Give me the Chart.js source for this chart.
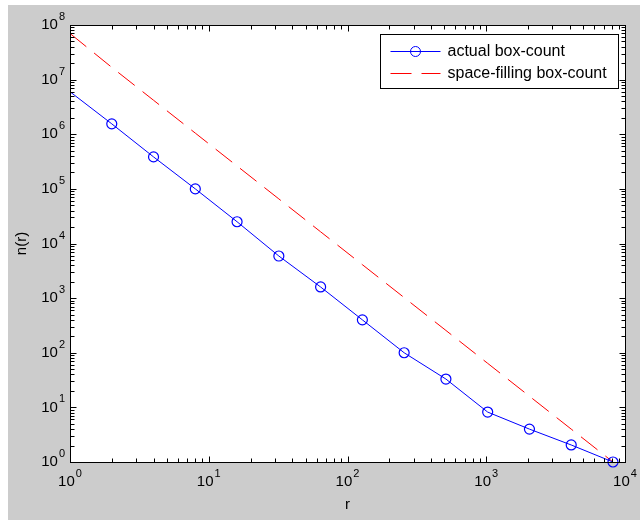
<!DOCTYPE html>
<html>
<head>
<meta charset="utf-8">
<script src="https://cdn.jsdelivr.net/npm/chart.js@4.4.1/dist/chart.umd.min.js"></script>
<style>
  html, body { margin: 0; padding: 0; background: #fff; }
  #wrap { width: 640px; height: 520px; }
</style>
</head>
<body>
<div id="wrap"><canvas id="c" width="640" height="520"></canvas></div>
<script>
// box sizes r and counts n(r)
const radii = [1, 2, 4, 8, 16, 32, 64, 128, 256, 512, 1024, 2048, 4096, 8192]
const actualCount = [6.0e6, 1.55e6, 3.85e5, 1.0e5, 2.5e4, 5.9e3, 1.6e3, 400, 100, 33, 8.2, 4.0, 2.05, 1]
const spaceFilling = [70000000, 16777216, 4194304, 1048576, 262144, 65536, 16384, 4096, 1024, 256, 64, 16, 4, 1]

const xMajor = [1, 10, 100, 1000, 10000]
const xExponents = ["0", "1", "2", "3", "4"]
const yMajor = [1, 10, 100, 1e3, 1e4, 1e5, 1e6, 1e7, 1e8]
const yExponents = ["0", "1", "2", "3", "4", "5", "6", "7", "8"]

const seriesNames = ["actual box-count", "space-filling box-count"]

const FONT = "Liberation Sans, Arial, sans-serif"

function minorValues(majors) {
  const out = []
  for (let i = 0; i < majors.length - 1; i++) {
    for (let m = 2; m <= 9; m++) out.push(majors[i] * m)
  }
  return out
}

function drawPower(ctx, exp, x, y, align) {
  // "10" with a raised exponent, y is the vertical middle of the "10"
  ctx.font = "15px " + FONT
  const wBase = ctx.measureText("10").width
  ctx.font = "11px " + FONT
  const wExp = ctx.measureText(exp).width
  const total = wBase + wExp + 1
  let left = align === "right" ? x - total : x - total / 2
  ctx.textBaseline = "middle"
  ctx.textAlign = "left"
  ctx.font = "15px " + FONT
  ctx.fillText("10", left, y)
  ctx.font = "11px " + FONT
  ctx.fillText(exp, left + wBase + 1, y - 8)
}

const matlabAxes = {
  id: "matlabAxes",
  beforeDraw(chart) {
    const { ctx, chartArea: a } = chart
    ctx.save()
    ctx.fillStyle = "#fff"
    ctx.fillRect(0, 0, chart.width, chart.height)
    ctx.fillStyle = "#cccccc"
    ctx.fillRect(8, 5, chart.width - 8, chart.height - 5)
    ctx.fillStyle = "#fff"
    ctx.fillRect(a.left, a.top, a.right - a.left, a.bottom - a.top)
    ctx.restore()
  },
  afterDraw(chart) {
    const { ctx, chartArea: a } = chart
    const xs = chart.scales.x, ys = chart.scales.y
    const L = Math.round(a.left) + 0.5, R = Math.round(a.right) + 0.5
    const T = Math.round(a.top) + 0.5, B = Math.round(a.bottom) + 0.5
    ctx.save()
    ctx.strokeStyle = "#000"
    ctx.lineWidth = 1
    ctx.strokeRect(L, T, R - L, B - T)

    ctx.beginPath()
    const tick = (v, len, horiz) => {
      if (horiz) {
        const px = Math.round(xs.getPixelForValue(v)) + 0.5
        ctx.moveTo(px, B); ctx.lineTo(px, B - len)
        ctx.moveTo(px, T); ctx.lineTo(px, T + len)
      } else {
        const py = Math.round(ys.getPixelForValue(v)) + 0.5
        ctx.moveTo(L, py); ctx.lineTo(L + len, py)
        ctx.moveTo(R, py); ctx.lineTo(R - len, py)
      }
    }
    xMajor.forEach(v => tick(v, 6, true))
    minorValues(xMajor).forEach(v => tick(v, 4, true))
    yMajor.forEach(v => tick(v, 6, false))
    minorValues(yMajor).forEach(v => tick(v, 4, false))
    ctx.stroke()

    ctx.fillStyle = "#000"
    xMajor.forEach((v, i) => drawPower(ctx, xExponents[i], xs.getPixelForValue(v), a.bottom + 20, "center"))
    yMajor.forEach((v, i) => drawPower(ctx, yExponents[i], a.left - 5, ys.getPixelForValue(v), "right"))

    // axis titles
    ctx.font = "15px " + FONT
    ctx.textAlign = "center"
    ctx.textBaseline = "middle"
    ctx.fillText("r", (a.left + a.right) / 2, a.bottom + 43)
    ctx.save()
    ctx.translate(22, (a.top + a.bottom) / 2)
    ctx.rotate(-Math.PI / 2)
    ctx.fillText("n(r)", 0, 0)
    ctx.restore()

    // legend box, top right inside the axes
    const lw = 238, lh = 54
    const lx = Math.round(a.right - 7 - lw) + 0.5, ly = Math.round(a.top + 9) + 0.5
    ctx.fillStyle = "#fff"
    ctx.fillRect(lx, ly, lw, lh)
    ctx.strokeStyle = "#000"
    ctx.strokeRect(lx, ly, lw, lh)
    chart.data.datasets.forEach((ds, i) => {
      const yy = ly + 17 + i * 22
      ctx.strokeStyle = ds.borderColor
      ctx.lineWidth = ds.borderWidth
      ctx.setLineDash(ds.borderDash || [])
      ctx.beginPath()
      ctx.moveTo(lx + 10, yy); ctx.lineTo(lx + 60, yy)
      ctx.stroke()
      ctx.setLineDash([])
      if (ds.pointStyle === "circle") {
        ctx.beginPath()
        ctx.arc(lx + 35, yy, 5, 0, Math.PI * 2)
        ctx.stroke()
      }
      ctx.fillStyle = "#000"
      ctx.font = "16px " + FONT
      ctx.textAlign = "left"
      ctx.textBaseline = "middle"
      ctx.fillText(ds.label, lx + 67, yy)
    })
    ctx.restore()
  }
}

new Chart(document.getElementById("c"), {
  type: "line",
  data: {
    datasets: [{
      label: seriesNames[0],
      data: radii.map((r, i) => ({ x: r, y: actualCount[i] })),
      borderColor: "#0000ff",
      borderWidth: 1,
      pointStyle: "circle",
      pointRadius: (ctx) => ctx.dataIndex === 0 ? 0 : 5,
      pointBorderColor: "#0000ff",
      pointBackgroundColor: "rgba(0,0,0,0)",
      pointBorderWidth: 1.2,
      tension: 0,
      clip: false,
    }, {
      label: seriesNames[1],
      data: radii.map((r, i) => ({ x: r, y: spaceFilling[i] })),
      borderColor: "#ff0000",
      borderWidth: 1,
      borderDash: [21, 10],
      pointRadius: 0,
      tension: 0,
      clip: false,
    }]
  },
  options: {
    responsive: false,
    animation: false,
    devicePixelRatio: 1,
    layout: { padding: { left: 70, right: 15, top: 25, bottom: 58 } },
    plugins: { legend: { display: false }, tooltip: { enabled: false } },
    scales: {
      x: { type: "logarithmic", min: 1, max: 10000, display: false },
      y: { type: "logarithmic", min: 1, max: 1e8, display: false }
    }
  },
  plugins: [matlabAxes]
})
</script>
</body>
</html>
